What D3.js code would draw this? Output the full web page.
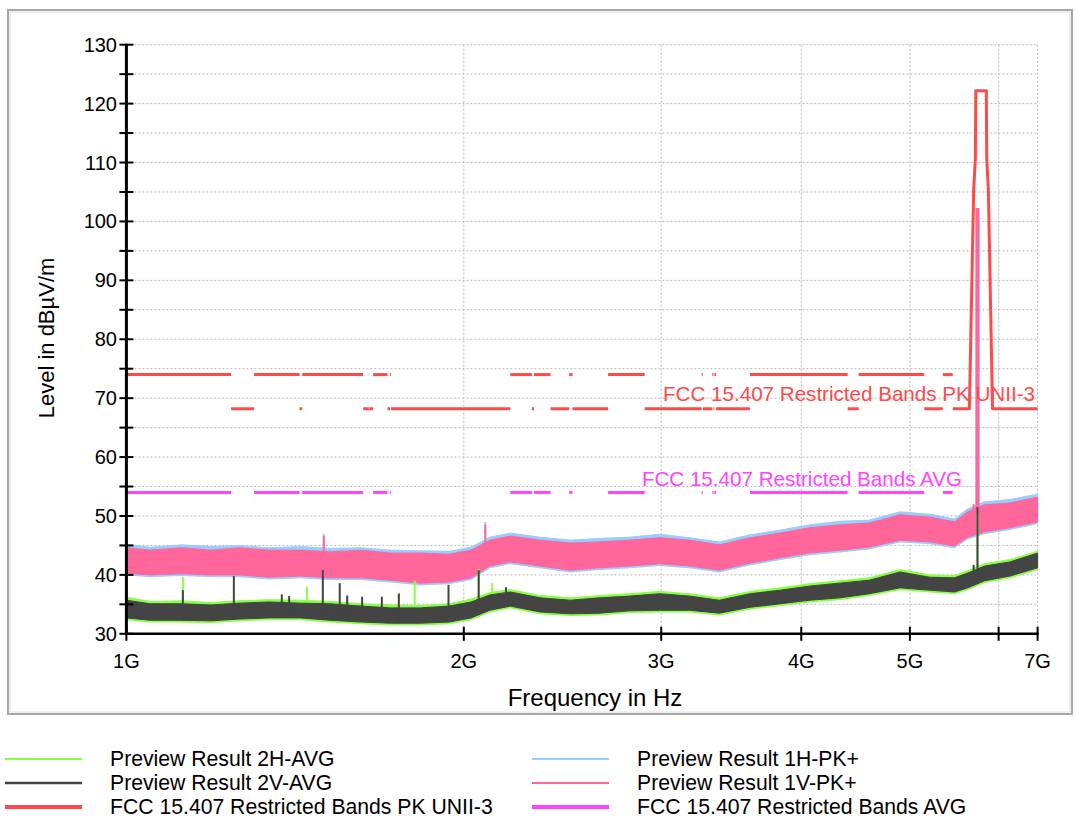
<!DOCTYPE html>
<html>
<head>
<meta charset="utf-8">
<script src="https://cdn.jsdelivr.net/npm/d3@7"></script>
<style>
  body { margin: 0; background: #fff; }
  svg { display: block; font-family: "Liberation Sans", Arial, Helvetica, sans-serif; }
</style>
</head>
<body>
<svg width="1075" height="821"></svg>
<script>
// ---------- data (frequency in GHz, level in dBµV/m) ----------
const envFreq = [1.00,1.05,1.12,1.19,1.26,1.34,1.43,1.52,1.62,1.72,1.83,1.94,2.03,2.11,2.20,2.34,2.49,2.64,2.81,2.99,3.18,3.38,3.60,3.83,4.07,4.33,4.60,4.90,5.21,5.48,5.63,5.83,6.14,6.50];

// Preview Result 1V-PK+ (pink) envelope
const pk1VHigh = [44.6,44.2,44.6,44.2,44.6,44.2,44.2,43.9,44.2,43.7,43.7,43.5,44.2,45.9,46.6,45.9,45.4,45.6,45.9,46.3,45.9,45.1,46.3,47.1,48.0,48.5,48.8,50.2,49.8,49.0,50.7,51.9,52.2,53.2];
const pk1VLow  = [40.3,40.0,40.2,40.0,40.0,39.6,39.8,39.5,39.5,39.1,38.6,38.8,39.5,41.5,42.2,41.5,40.8,41.2,41.5,41.9,41.5,40.8,42.0,42.9,43.7,44.2,44.7,45.9,45.6,44.9,46.4,47.3,48.0,49.0];
// Preview Result 1H-PK+ (light blue) envelope
const pk1HHigh = [45.2,44.7,45.1,44.8,45.0,44.6,44.8,44.5,44.6,44.2,44.1,44.0,44.7,46.4,47.1,46.4,45.9,46.2,46.4,46.9,46.3,45.6,46.8,47.6,48.5,49.1,49.3,50.7,50.3,49.5,51.2,52.4,52.8,53.7];
const pk1HLow  = [40.0,39.7,39.9,39.7,39.7,39.3,39.5,39.2,39.2,38.8,38.3,38.5,39.2,41.2,41.9,41.2,40.5,40.9,41.2,41.6,41.2,40.5,41.7,42.6,43.4,43.9,44.4,45.6,45.3,44.6,46.1,47.0,47.7,48.7];
// Preview Result 2V-AVG (dark grey) envelope
const av2VHigh = [35.7,35.1,35.1,34.9,35.2,35.4,35.2,35.1,34.7,34.4,34.4,34.7,35.4,36.6,37.1,36.1,35.7,36.1,36.4,36.8,36.4,35.7,36.8,37.4,38.1,38.6,39.1,40.5,39.6,39.5,40.3,41.5,42.2,43.7];
const av2VLow  = [32.7,32.3,32.3,32.2,32.5,32.7,32.7,32.3,32.0,31.8,31.8,32.0,32.7,34.0,34.7,33.7,33.4,33.5,33.9,34.0,34.0,33.5,34.5,35.1,35.7,36.1,36.8,37.8,37.4,37.1,37.8,39.0,39.8,41.2];
// Preview Result 2H-AVG (green) envelope
const av2HHigh = [36.2,35.5,35.6,35.3,35.6,35.8,35.7,35.5,35.1,34.9,34.8,35.1,35.9,37.0,37.5,36.5,36.1,36.5,36.8,37.2,36.8,36.1,37.2,37.8,38.5,39.0,39.5,40.9,40.0,39.9,40.7,41.9,42.6,44.0];
const av2HLow  = [32.4,32.0,32.0,31.9,32.2,32.4,32.4,32.0,31.7,31.5,31.5,31.7,32.4,33.7,34.4,33.4,33.1,33.2,33.6,33.7,33.7,33.2,34.2,34.8,35.4,35.8,36.5,37.5,37.1,36.8,37.5,38.7,39.5,40.9];

// narrow spikes [GHz, level]
const pk1VSpikes = [[1.50,46.6],[2.09,48.5],[5.70,52.0],[5.745,102.3]];
const pk1HSpikes = [[1.50,47.0],[2.09,49.0],[5.745,101.0]];
const av2VSpikes = [[1.123,37.4],[1.247,39.8],[1.376,36.7],[1.397,36.4],[1.497,40.8],[1.550,38.6],[1.574,36.5],[1.623,36.3],[1.690,36.3],[1.750,36.8],[1.938,38.3],[2.062,40.8],[2.181,37.9],[5.70,41.7],[5.745,51.5]];
const av2HSpikes = [[1.0,38.5],[1.123,39.6],[1.449,38.0],[1.750,37.0],[1.808,39.0],[2.062,41.0],[2.120,38.6],[5.745,50.5]];

// FCC 15.205 restricted bands inside 1-6.5 GHz
const restrictedBands = [[1.0,1.24],[1.3,1.427],[1.435,1.6265],[1.6455,1.6465],[1.66,1.71],[1.7188,1.7222],[2.2,2.3],[2.31,2.39],[2.4835,2.5],[2.69,2.9],[3.26,3.267],[3.332,3.339],[3.3458,3.358],[3.6,4.4],[4.5,5.15],[5.35,5.46]];
const pkRestricted = 74;
const pkOutOfBand = 68.2;
const avgRestricted = 54;
// UNII-3 band-edge mask (PK)
const unii3Mask = [[5.65,68.2],[5.70,105.2],[5.72,110.8],[5.725,122.2],[5.85,122.2],[5.855,110.8],[5.875,105.2],[5.925,68.2],[6.5,68.2]];

const yTicks = [30,40,50,60,70,80,90,100,110,120,130];
const yMinor = [35,45,55,65,75,85,95,105,115,125];
const xTicks = [1,2,3,4,5,6,6.5];
const xTickLabels = ["1G","2G","3G","4G","5G","","7G"];

const C = {
  green: "#88ff44", dark: "#444444", blue: "#99ccff", pink: "#ff6699",
  red: "#ff4a4a", magenta: "#ff44ff", grid: "#b8b8b8"
};

// ---------- layout ----------
const svg = d3.select("svg");
const x = d3.scaleLog().domain([1, 6.5]).range([126.4, 1037.6]);
const y = d3.scaleLinear().domain([30, 130]).range([633.8, 44.7]);

// outer frame
svg.append("rect").attr("x",8).attr("y",10).attr("width",1064).attr("height",704)
  .attr("fill","none").attr("stroke","#a8a8a8").attr("stroke-width",2);
svg.append("rect").attr("x",10).attr("y",12).attr("width",1060).attr("height",700)
  .attr("fill","none").attr("stroke","#e0e0e0").attr("stroke-width",1);

// grid
const grid = svg.append("g").attr("stroke",C.grid).attr("stroke-width",1).attr("stroke-dasharray","2,2");
yTicks.concat(yMinor).filter(v=>v>30).forEach(v=>{
  grid.append("line").attr("x1",x(1)).attr("x2",x(6.5)).attr("y1",y(v)).attr("y2",y(v));
});
xTicks.filter(v=>v>1).forEach(v=>{
  grid.append("line").attr("x1",x(v)).attr("x2",x(v)).attr("y1",y(130)).attr("y2",y(30));
});

// ---------- traces ----------
function drawTrace(hi, lo, spikes, color, sw){
  const g = svg.append("g");
  const pts = envFreq.map((f,i)=>({f, hi:hi[i], lo:lo[i]}));
  const area = d3.area().x(d=>x(d.f)).y0(d=>y(d.lo)).y1(d=>y(d.hi));
  g.append("path").attr("d",area(pts)).attr("fill",color).attr("stroke",color).attr("stroke-width",1);
  const lowAt = d3.scaleLinear().domain(envFreq).range(lo);
  spikes.forEach(([f,v])=>{
    g.append("line").attr("x1",x(f)).attr("x2",x(f)).attr("y1",y(lowAt(f))).attr("y2",y(v))
      .attr("stroke",color).attr("stroke-width", v > 80 ? 4 : sw);
  });
}
drawTrace(pk1HHigh, pk1HLow, pk1HSpikes, C.blue, 2);
drawTrace(pk1VHigh, pk1VLow, pk1VSpikes, C.pink, 2);
drawTrace(av2HHigh, av2HLow, av2HSpikes, C.green, 2);
drawTrace(av2VHigh, av2VLow, av2VSpikes, C.dark, 2);

// ---------- limit lines ----------
const lim = svg.append("g").attr("fill","none").attr("stroke-width",3);
const line = d3.line().x(d=>x(d[0])).y(d=>y(d[1]));
// PK: 74 inside restricted bands, 68.2 in gaps, then UNII-3 mask
restrictedBands.forEach(([a,b])=>{
  lim.append("path").attr("d",line([[a,pkRestricted],[b,pkRestricted]])).attr("stroke",C.red);
  lim.append("path").attr("d",line([[a,avgRestricted],[b,avgRestricted]])).attr("stroke",C.magenta);
});
for(let i=0;i<restrictedBands.length-1;i++){
  const a = restrictedBands[i][1], b = restrictedBands[i+1][0];
  lim.append("path").attr("d",line([[a,pkOutOfBand],[b,pkOutOfBand]])).attr("stroke",C.red);
}
const lastEdge = restrictedBands[restrictedBands.length-1][1];
lim.append("path").attr("d",line([[lastEdge,pkOutOfBand]].concat(unii3Mask)))
  .attr("stroke",C.red).attr("stroke-linejoin","round");

// ---------- axes ----------
const ax = svg.append("g").attr("stroke","#000");
ax.append("line").attr("x1",x(1)).attr("x2",x(1)).attr("y1",y(130)-1).attr("y2",y(30)+1).attr("stroke-width",3);
ax.append("line").attr("x1",x(1)).attr("x2",x(6.5)+1).attr("y1",y(30)).attr("y2",y(30)).attr("stroke-width",2.5);
yTicks.concat(yMinor).forEach(v=>{
  ax.append("line").attr("x1",x(1)-7).attr("x2",x(1)+7).attr("y1",y(v)).attr("y2",y(v)).attr("stroke-width",2);
});
xTicks.forEach(v=>{
  ax.append("line").attr("x1",x(v)).attr("x2",x(v)).attr("y1",y(30)-7).attr("y2",y(30)+7).attr("stroke-width",2);
});

const txt = svg.append("g").attr("fill","#000");
yTicks.forEach(v=>{
  txt.append("text").attr("x",117).attr("y",y(v)+7).attr("text-anchor","end")
    .attr("font-size",20).text(v);
});
xTicks.forEach((v,i)=>{
  txt.append("text").attr("x",x(v)).attr("y",668).attr("text-anchor","middle")
    .attr("font-size",20).text(xTickLabels[i]);
});
txt.append("text").attr("x",595).attr("y",706).attr("text-anchor","middle")
  .attr("font-size",24).text("Frequency in Hz");
txt.append("text").attr("transform","translate(54,338) rotate(-90)").attr("text-anchor","middle")
  .attr("font-size",22).text("Level in dBµV/m");

// limit labels
svg.append("text").attr("x",1035).attr("y",401).attr("text-anchor","end")
  .attr("font-size",20.6).attr("fill",C.red).text("FCC 15.407 Restricted Bands PK UNII-3");
svg.append("text").attr("x",962).attr("y",486).attr("text-anchor","end")
  .attr("font-size",20.6).attr("fill",C.magenta).text("FCC 15.407 Restricted Bands AVG");

// ---------- legend ----------
const legendItems = [
  {label:"Preview Result 2H-AVG", color:C.green, w:2, col:0, row:0},
  {label:"Preview Result 2V-AVG", color:C.dark, w:2.5, col:0, row:1},
  {label:"FCC 15.407 Restricted Bands PK UNII-3", color:C.red, w:4, col:0, row:2},
  {label:"Preview Result 1H-PK+", color:C.blue, w:2, col:1, row:0},
  {label:"Preview Result 1V-PK+", color:C.pink, w:2, col:1, row:1},
  {label:"FCC 15.407 Restricted Bands AVG", color:C.magenta, w:4, col:1, row:2}
];
const leg = svg.append("g");
legendItems.forEach(d=>{
  const lx = d.col ? 532 : 5, ly = 759 + d.row*24;
  leg.append("line").attr("x1",lx).attr("x2",lx+77).attr("y1",ly).attr("y2",ly)
    .attr("stroke",d.color).attr("stroke-width",d.w);
  leg.append("text").attr("x",lx+105).attr("y",ly+7).attr("font-size",21.2).attr("fill","#000").text(d.label);
});
</script>
</body>
</html>
